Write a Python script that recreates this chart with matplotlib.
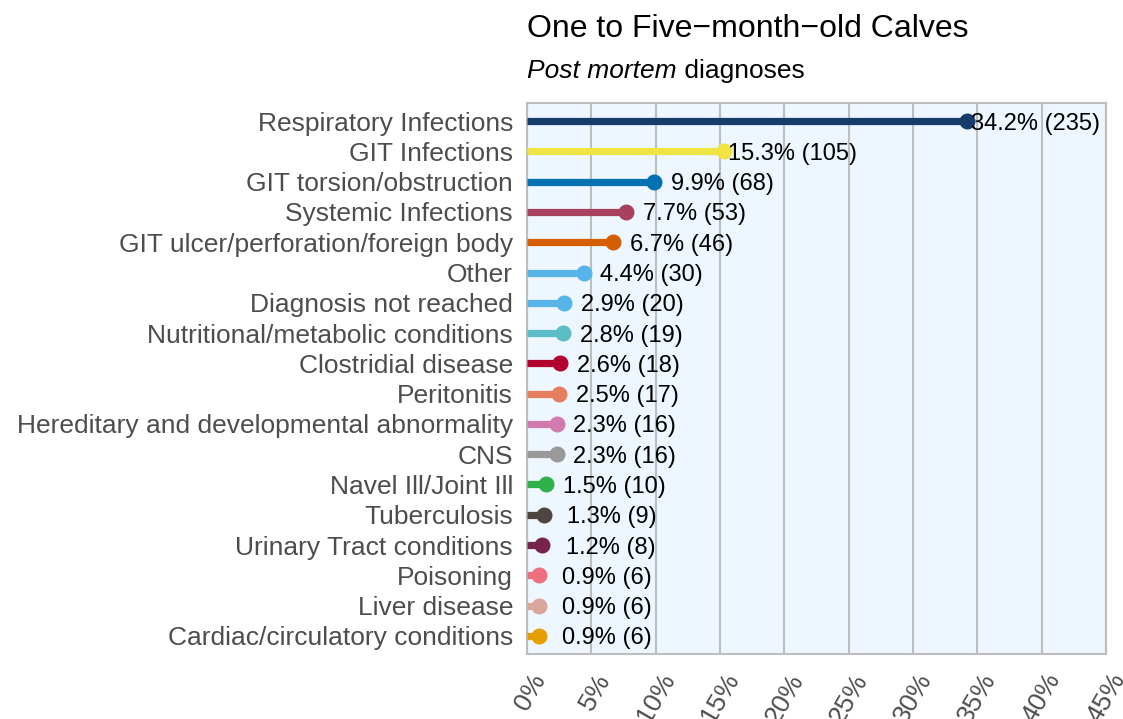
import matplotlib
matplotlib.use("Agg")
import matplotlib.pyplot as plt
from matplotlib.ticker import FuncFormatter
from matplotlib.transforms import ScaledTranslation

plt.rcParams['font.family'] = ['Liberation Sans', 'DejaVu Sans']

categories = [
    "Respiratory Infections", "GIT Infections", "GIT torsion/obstruction",
    "Systemic Infections", "GIT ulcer/perforation/foreign body", "Other",
    "Diagnosis not reached", "Nutritional/metabolic conditions",
    "Clostridial disease", "Peritonitis",
    "Hereditary and developmental abnormality", "CNS",
    "Navel Ill/Joint Ill", "Tuberculosis", "Urinary Tract conditions",
    "Poisoning", "Liver disease", "Cardiac/circulatory conditions",
]
percents = [34.2, 15.3, 9.9, 7.7, 6.7, 4.4, 2.9, 2.8, 2.6, 2.5, 2.3, 2.3,
            1.5, 1.3, 1.2, 0.9, 0.9, 0.9]
counts = [235, 105, 68, 53, 46, 30, 20, 19, 18, 17, 16, 16, 10, 9, 8, 6, 6, 6]
colors = ["#143D6B", "#F0E442", "#0072B2", "#A8405F", "#D55E00", "#56B4E9",
          "#56B4E9", "#5ABDC8", "#B2002E", "#E57E5E", "#D17AAE", "#999999",
          "#2EB04B", "#4D4640", "#75244C", "#EE7080", "#D9A69C", "#E69F00"]
x_ticks = [0, 5, 10, 15, 20, 25, 30, 35, 40, 45]

fig = plt.figure(figsize=(11.23, 7.19), dpi=100)
ax = fig.add_axes([527/1123, 1-654/719, (1106-527)/1123, (654-103)/719])
ax.set_facecolor("#EEF6FF")

n = len(categories)
ypos = [n - 1 - i for i in range(n)]
for y, v, c, k in zip(ypos, percents, colors, counts):
    ax.plot([0, v], [y, y], color=c, lw=5.2, solid_capstyle='butt', zorder=3)
    ax.plot([v], [y], 'o', color=c, ms=10.5, zorder=4)
    ax.text(v + 5.3, y, f"{v:.1f}% ({k})", ha='center', va='center_baseline',
            fontsize=17, color='black', zorder=5)

ax.set_xlim(0, 45)
ax.set_ylim(-0.6, n - 0.4)
ax.set_xticks(x_ticks)
ax.xaxis.set_major_formatter(FuncFormatter(lambda x, p: f"{x:.0f}%"))
ax.set_yticks(ypos)
ax.set_yticklabels(categories)
ax.tick_params(axis='y', length=0, pad=10, labelsize=19, labelcolor="#4D4D4D")
ax.tick_params(axis='x', length=0, pad=11, labelsize=19, labelcolor="#4D4D4D")
offset = ScaledTranslation(3/100, 0, fig.dpi_scale_trans)
for lab in ax.get_xticklabels():
    lab.set_rotation(60)
    lab.set_ha('right')
    lab.set_va('top')
    lab.set_rotation_mode('anchor')
    lab.set_transform(lab.get_transform() + offset)
ax.grid(axis='x', color="#BEBEBE", lw=1.5, zorder=1)
ax.set_axisbelow(True)
for s in ax.spines.values():
    s.set_color("#BEBEBE")
    s.set_linewidth(1.5)

fig.text(527/1123, 1-37/719, "One to Five\u2212month\u2212old Calves",
         fontsize=23, ha='left', va='baseline', color='black')
t1 = fig.text(527/1123, 1-78/719, "Post mortem", fontsize=19, style='italic',
              ha='left', va='baseline', color='black')
fig.canvas.draw()
bb = t1.get_window_extent()
fig.text(bb.x1 / fig.bbox.width, 1-78/719, " diagnoses", fontsize=19,
         ha='left', va='baseline', color='black')

fig.savefig("out.png", dpi=100)
